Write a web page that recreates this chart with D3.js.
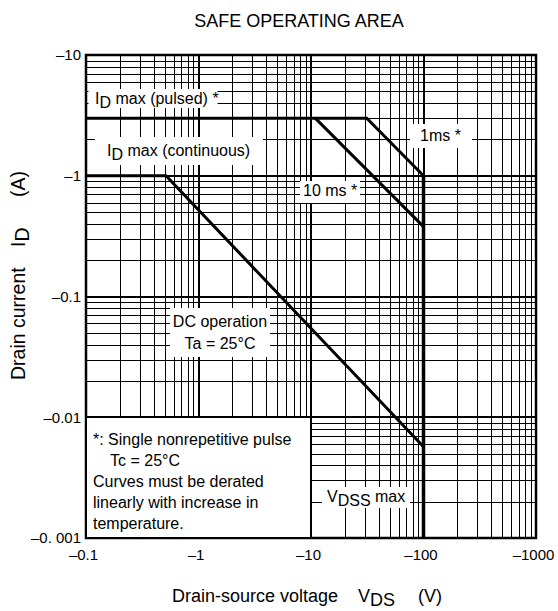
<!DOCTYPE html>
<html>
<head>
<meta charset="utf-8">
<script src="https://cdn.jsdelivr.net/npm/d3@7"></script>
<style>
  body { margin: 0; background: #fff; }
  svg { display: block; font-family: "Liberation Sans", Arial, Helvetica, sans-serif; }
</style>
</head>
<body>
<svg id="chart" width="558" height="611"></svg>
<script>
// Axis ticks (the datasheet prints the values as negatives)
const xTicks = [0.1, 1, 10, 100, 1000];
const xTickLabels = ['–0.1', '–1', '–10', '–100', '–1000'];
const yTicks = [0.001, 0.01, 0.1, 1, 10];
const yTickLabels = ['–0. 001', '–0.01', '–0.1', '–1', '–10'];

// SOA boundaries, [V_DS (V), I_D (A)] as magnitudes
const dcOperation = [[0.1, 1], [0.514, 1], [100, 0.0057]];
const pulse1ms = [[0.1, 3], [31.3, 3], [100, 1.0]];
const pulse10ms = [[10.9, 3], [100, 0.379]];
const vdssMax = [[100, 1.0], [100, 0.001]];

const svg = d3.select('#chart');
const margin = { top: 55, left: 86 };
const width = 450;
const height = 483;

const x = d3.scaleLog().domain([0.1, 1000]).range([0, width]);
const y = d3.scaleLog().domain([0.001, 10]).range([height, 0]);

const g = svg.append('g')
  .attr('transform', `translate(${margin.left},${margin.top})`);

// Grid: 2..9 inside every decade, decades drawn heavier
const minorOf = (ticks) => {
  const out = [];
  ticks.slice(0, -1).forEach((d) => {
    for (let k = 2; k <= 9; k++) out.push(d * k);
  });
  return out;
};
const crisp = (v) => Math.round(v) + 0.5;

const grid = g.append('g').attr('class', 'grid').attr('stroke', '#000');

grid.selectAll('.vminor').data(minorOf(xTicks)).join('line')
  .attr('class', 'vminor')
  .attr('x1', (d) => crisp(x(d))).attr('x2', (d) => crisp(x(d)))
  .attr('y1', 0).attr('y2', height)
  .attr('stroke-width', 1);

grid.selectAll('.hminor').data(minorOf(yTicks)).join('line')
  .attr('class', 'hminor')
  .attr('y1', (d) => crisp(y(d))).attr('y2', (d) => crisp(y(d)))
  .attr('x1', 0).attr('x2', width)
  .attr('stroke-width', 1);

grid.selectAll('.vmajor').data(xTicks.slice(1, -1)).join('line')
  .attr('class', 'vmajor')
  .attr('x1', (d) => Math.round(x(d))).attr('x2', (d) => Math.round(x(d)))
  .attr('y1', 0).attr('y2', height)
  .attr('stroke-width', 2);

grid.selectAll('.hmajor').data(yTicks.slice(1, -1)).join('line')
  .attr('class', 'hmajor')
  .attr('y1', (d) => Math.round(y(d))).attr('y2', (d) => Math.round(y(d)))
  .attr('x1', 0).attr('x2', width)
  .attr('stroke-width', 2);

// White label backgrounds knock out the grid (page coordinates)
const labelBoxes = [
  [88.5, 89, 129, 19],    // ID max (pulsed)
  [95, 137, 168, 28],     // ID max (continuous)
  [410, 124, 62, 24],     // 1ms
  [300, 181, 60, 22],     // 10 ms
  [170, 308, 100, 49],    // DC operation
  [322, 487, 88, 21]      // VDSS max
];
svg.append('g').selectAll('rect').data(labelBoxes).join('rect')
  .attr('x', (d) => d[0]).attr('y', (d) => d[1])
  .attr('width', (d) => d[2]).attr('height', (d) => d[3])
  .attr('fill', '#fff');

// Note box in the lower left corner
svg.append('rect')
  .attr('x', margin.left).attr('y', margin.top + Math.round(y(0.01)))
  .attr('width', Math.round(x(10))).attr('height', height - Math.round(y(0.01)))
  .attr('fill', '#fff').attr('stroke', '#000').attr('stroke-width', 2);

// Curves
const line = d3.line().x((d) => x(d[0])).y((d) => y(d[1]));
const curves = g.append('g').attr('fill', 'none').attr('stroke', '#000')
  .attr('stroke-linejoin', 'miter');
[dcOperation, pulse1ms, pulse10ms].forEach((c) => {
  curves.append('path').attr('d', line(c)).attr('stroke-width', 3);
});
curves.append('path').attr('d', line(vdssMax)).attr('stroke-width', 3.5);

// Frame
g.append('rect')
  .attr('width', width).attr('height', height)
  .attr('fill', 'none').attr('stroke', '#000').attr('stroke-width', 2.5);

// Tick labels
const xAxis = d3.axisBottom(x).tickValues(xTicks)
  .tickFormat((d, i) => xTickLabels[i]).tickSize(0).tickPadding(11);
const yAxis = d3.axisLeft(y).tickValues(yTicks)
  .tickFormat((d, i) => yTickLabels[i]).tickSize(0).tickPadding(5);

g.append('g').attr('transform', `translate(0,${height})`).call(xAxis)
  .call((a) => a.select('.domain').remove())
  .selectAll('text').attr('dx', -3);
g.append('g').call(yAxis)
  .call((a) => a.select('.domain').remove());
g.selectAll('.tick text')
  .attr('font-family', '"Liberation Sans", Arial, sans-serif')
  .attr('font-size', 15).attr('fill', '#000');

// Text with subscripts: parts = [[text, isSub], ...]
function richText(parent, px, py, parts, size, anchor) {
  const t = parent.append('text')
    .attr('x', px).attr('y', py)
    .attr('font-size', size)
    .attr('text-anchor', anchor || 'start');
  let down = false;
  parts.forEach(([s, sub]) => {
    const span = t.append('tspan').text(s);
    if (sub && !down) { span.attr('dy', 4); down = true; }
    else if (!sub && down) { span.attr('dy', -4); down = false; }
  });
  return t;
}

const notes = svg.append('g').attr('fill', '#000');
richText(notes, 95, 104, [['I'], ['D', true], [' max (pulsed) *']], 16);
richText(notes, 107, 156, [['I'], ['D', true], [' max (continuous)']], 16);
richText(notes, 420, 141, [['1ms *']], 16);
richText(notes, 303, 196, [['10 ms *']], 16);
richText(notes, 220, 327, [['DC operation']], 16, 'middle');
richText(notes, 220, 349, [['Ta = 25°C']], 16, 'middle');
richText(notes, 327, 502, [['V'], ['DSS', true], [' max']], 16);

const noteLines = [
  [93, 445, '*: Single nonrepetitive pulse'],
  [110, 466, 'Tc = 25°C'],
  [93, 487, 'Curves must be derated'],
  [93, 508, 'linearly with increase in'],
  [93, 529, 'temperature.']
];
noteLines.forEach(([px, py, s]) => richText(notes, px, py, [[s]], 16));

// Titles
svg.append('text')
  .attr('x', 299).attr('y', 27)
  .attr('text-anchor', 'middle').attr('font-size', 18)
  .text('SAFE OPERATING AREA');

const xTitle = svg.append('g');
richText(xTitle, 172, 602, [['Drain-source voltage']], 18);
richText(xTitle, 358, 602, [['V'], ['DS', true]], 18);
richText(xTitle, 418, 602, [['(V)']], 18);

const yTitle = svg.append('g').attr('transform', 'translate(25,380) rotate(-90)');
richText(yTitle, 0, 0, [['Drain current']], 19.5);
richText(yTitle, 133, 0, [['I'], ['D', true]], 19.5);
richText(yTitle, 183, 0, [['(A)']], 19.5);
</script>
</body>
</html>
